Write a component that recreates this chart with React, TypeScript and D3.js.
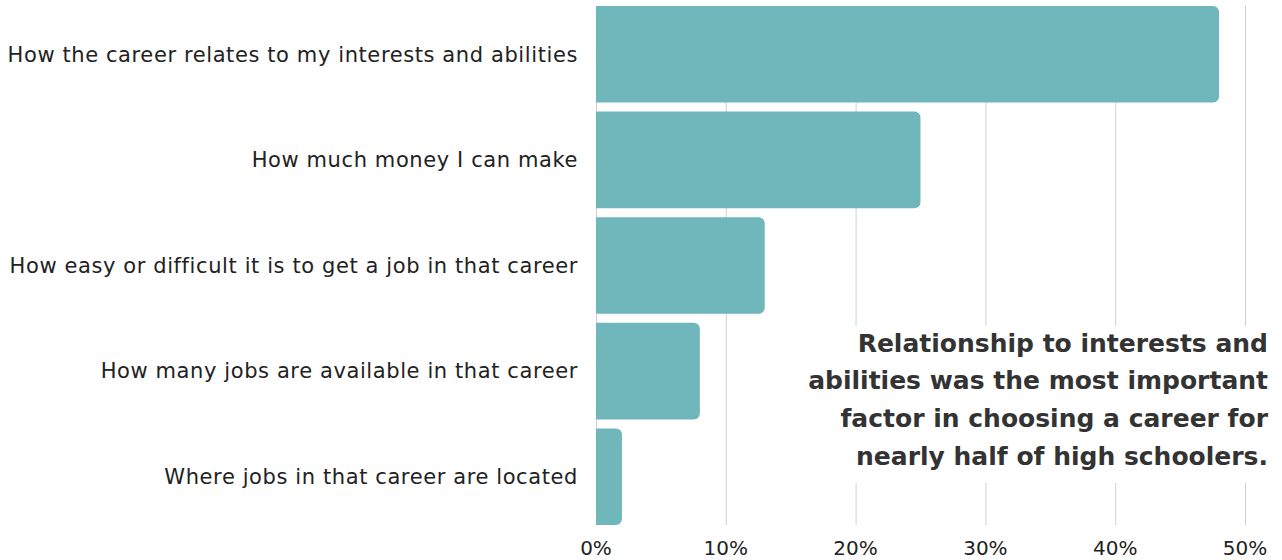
import React, { useEffect, useRef } from "react";
import * as d3 from "d3";

const categories = [
  "How the career relates to my interests and abilities",
  "How much money I can make",
  "How easy or difficult it is to get a job in that career",
  "How many jobs are available in that career",
  "Where jobs in that career are located",
];
const values = [48, 25, 13, 8, 2];
const ticks = [0, 10, 20, 30, 40, 50];
const note = [
  "Relationship to interests and",
  "abilities was the most important",
  "factor in choosing a career for",
  "nearly half of high schoolers.",
];

const W = 1282;
const H = 560;
const margin = { top: 6, right: 37, bottom: 35, left: 596 };
const barColor = "#6fb7ba";
const font = "'DejaVu Sans', sans-serif";

const App = () => {
  const ref = useRef<SVGSVGElement>(null);

  useEffect(() => {
    const svg = d3.select(ref.current);
    svg.selectAll("*").remove();

    const x = d3
      .scaleLinear()
      .domain([0, 50])
      .range([margin.left, W - margin.right]);
    const y = d3
      .scaleBand()
      .domain(categories)
      .range([margin.top, H - margin.bottom])
      .paddingInner(0.085)
      .paddingOuter(0);

    // grid
    svg
      .append("g")
      .selectAll("line")
      .data(ticks)
      .enter()
      .append("line")
      .attr("x1", (d) => x(d) + 0.5)
      .attr("x2", (d) => x(d) + 0.5)
      .attr("y1", margin.top)
      .attr("y2", H - margin.bottom)
      .attr("stroke", "#d0d0d0")
      .attr("stroke-width", 1);

    // bars with rounded right ends
    const r = 6;
    svg
      .append("g")
      .selectAll("path")
      .data(values)
      .enter()
      .append("path")
      .attr("fill", barColor)
      .attr("d", (d, i) => {
        const x0 = x(0);
        const x1 = x(d);
        const y0 = y(categories[i])!;
        const h = y.bandwidth();
        const rr = Math.min(r, (x1 - x0) / 2);
        const p = d3.path();
        p.moveTo(x0, y0);
        p.lineTo(x1 - rr, y0);
        p.arcTo(x1, y0, x1, y0 + rr, rr);
        p.lineTo(x1, y0 + h - rr);
        p.arcTo(x1, y0 + h, x1 - rr, y0 + h, rr);
        p.lineTo(x0, y0 + h);
        p.closePath();
        return p.toString();
      });

    // category labels
    svg
      .append("g")
      .selectAll("text")
      .data(categories)
      .enter()
      .append("text")
      .attr("x", margin.left - 18)
      .attr("y", (d) => y(d)! + y.bandwidth() / 2)
      .attr("dy", "0.35em")
      .attr("text-anchor", "end")
      .attr("font-family", font)
      .attr("font-size", 21)
      .attr("letter-spacing", 0.6)
      .attr("fill", "#222")
      .text((d) => d);

    // tick labels
    svg
      .append("g")
      .selectAll("text")
      .data(ticks)
      .enter()
      .append("text")
      .attr("x", (d) => x(d))
      .attr("y", H - 5)
      .attr("text-anchor", "middle")
      .attr("font-family", font)
      .attr("font-size", 20)
      .attr("fill", "#222")
      .text((d) => d + "%");

    // annotation
    const ann = svg.append("g");
    ann
      .append("rect")
      .attr("x", 790)
      .attr("y", 326)
      .attr("width", W - 790)
      .attr("height", 157)
      .attr("fill", "#fff");
    ann
      .selectAll("text")
      .data(note)
      .enter()
      .append("text")
      .attr("x", 1268)
      .attr("y", (d, i) => 343 + i * 37.7)
      .attr("dy", "0.35em")
      .attr("text-anchor", "end")
      .attr("font-family", font)
      .attr("font-weight", 700)
      .attr("font-size", 25)
      .attr("fill", "#333")
      .text((d) => d);
  }, []);

  return (
    <svg
      ref={ref}
      width={W}
      height={H}
      style={{ position: "absolute", left: 0, top: 0, background: "#fff" }}
    ></svg>
  );
};

export default App;
